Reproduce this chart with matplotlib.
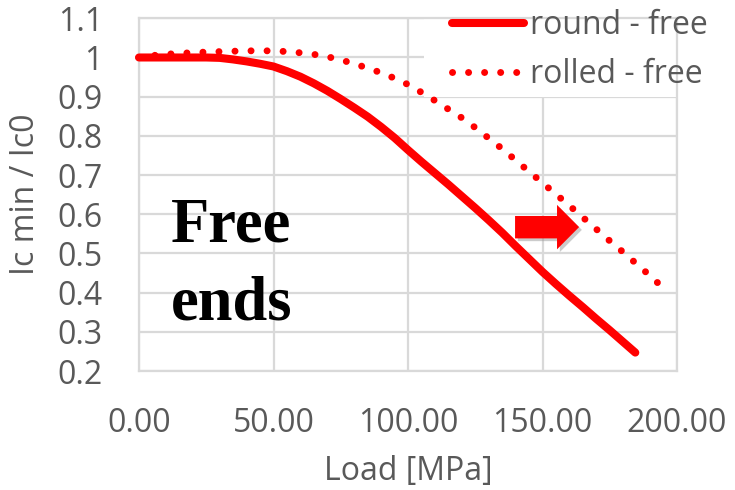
import matplotlib
matplotlib.use("Agg")
import matplotlib.pyplot as plt
from matplotlib.lines import Line2D
from matplotlib.patches import Polygon, Rectangle
import matplotlib.patheffects as pe

# Normalised critical current vs. applied load
load_round = [0, 5, 10, 15, 20, 25, 30, 35, 40, 45, 50, 55, 60, 65, 70, 75,
              80, 85, 90, 95, 100, 105, 110, 115, 120, 125, 130, 135, 140,
              145, 150, 155, 160, 165, 170, 175, 180, 184.5]
ic_round = [1.0, 1.0, 1.0, 1.0, 1.0, 1.0, 0.999, 0.995, 0.99, 0.984, 0.977,
            0.965, 0.951, 0.934, 0.915, 0.894, 0.872, 0.849, 0.823, 0.795,
            0.764, 0.734, 0.705, 0.676, 0.646, 0.616, 0.585, 0.553, 0.519,
            0.486, 0.453, 0.422, 0.392, 0.363, 0.333, 0.304, 0.274, 0.247]

load_rolled = [0, 5, 10, 15, 20, 25, 30, 35, 40, 45, 50, 55, 60, 65, 70, 75,
               80, 85, 90, 95, 100, 105, 110, 115, 120, 125, 130, 135, 140,
               145, 150, 155, 160, 165, 170, 175, 180, 185, 190, 193.3]
ic_rolled = [1.0, 1.005, 1.008, 1.011, 1.012, 1.014, 1.015, 1.016, 1.017,
             1.017, 1.017, 1.015, 1.012, 1.008, 1.002, 0.994, 0.984, 0.973,
             0.961, 0.947, 0.931, 0.911, 0.89, 0.868, 0.846, 0.821, 0.794,
             0.767, 0.738, 0.709, 0.68, 0.651, 0.622, 0.592, 0.562, 0.532,
             0.503, 0.473, 0.443, 0.422]

series_labels = ["round - free", "rolled - free"]
x_ticks = [0, 50, 100, 150, 200]
x_tick_labels = ["0.00", "50.00", "100.00", "150.00", "200.00"]
y_ticks = [0.2, 0.3, 0.4, 0.5, 0.6, 0.7, 0.8, 0.9, 1.0, 1.1]
y_tick_labels = ["0.2", "0.3", "0.4", "0.5", "0.6", "0.7", "0.8", "0.9", "1", "1.1"]

RED = "#ff0000"
GRAY_TXT = "#595959"
GRID = "#d9d9d9"
FONT = "Open Sans"
FS = 23

fig = plt.figure(figsize=(7.35, 4.9), dpi=100)
ax = fig.add_axes([139 / 735, 1 - 371 / 490, 538 / 735, 352.7 / 490])

ax.set_xlim(0, 200)
ax.set_ylim(0.2, 1.1)
ax.set_axisbelow(True)
ax.grid(True, color=GRID, linewidth=1.6)
for s in ax.spines.values():
    s.set_color(GRID)
    s.set_linewidth(1.6)
ax.tick_params(length=0, pad=26, labelsize=FS, labelcolor=GRAY_TXT)
ax.set_xticks(x_ticks)
ax.set_xticklabels(x_tick_labels, fontfamily=FONT)
ax.set_yticks(y_ticks)
ax.set_yticklabels(y_tick_labels, fontfamily=FONT)

ax.set_xlabel("Load [MPa]", fontsize=FS, color=GRAY_TXT, fontfamily=FONT, labelpad=11)
ax.set_ylabel("Ic min / Ic0", fontsize=FS, color=GRAY_TXT, fontfamily=FONT, labelpad=11)

solid_kw = dict(color=RED, linewidth=5.8, solid_capstyle="round",
                solid_joinstyle="round")
dot_kw = dict(color=RED, linewidth=5.0, linestyle=(0, (0.01, 2.3)),
              dash_capstyle="round")

ax.plot(load_round, ic_round, zorder=3, clip_on=False, **solid_kw)
ax.plot(load_rolled, ic_rolled, zorder=3, clip_on=False, **dot_kw)

# white backing behind the legend
ax.add_patch(Rectangle((424 / 735, 1 - 97 / 490), 311 / 735, 97 / 490,
                       transform=fig.transFigure, facecolor="white",
                       edgecolor="none", zorder=1.5, clip_on=False))

handles = [Line2D([], [], **solid_kw), Line2D([], [], **dot_kw)]
leg = ax.legend(handles, series_labels, loc="upper left",
                bbox_to_anchor=(452 / 735, 1 - 9 / 490),
                bbox_transform=fig.transFigure, frameon=False,
                prop={"family": FONT, "size": FS}, handlelength=2.25,
                handletextpad=0.2, borderpad=0, borderaxespad=0,
                labelspacing=0.5)
for t in leg.get_texts():
    t.set_color(GRAY_TXT)

# annotation text
ax.text(0.059, 0.3666, "Free", transform=ax.transAxes, fontsize=45,
        fontweight="bold", fontfamily="Liberation Serif", va="baseline",
        ha="left", color="black", zorder=4)
ax.text(0.059, 0.1446, "ends", transform=ax.transAxes, fontsize=45,
        fontweight="bold", fontfamily="Liberation Serif", va="baseline",
        ha="left", color="black", zorder=4)

# block arrow pointing to the rolled curve
arrow_pts = [(0.699, 0.4395), (0.777, 0.4395), (0.777, 0.471), (0.818, 0.408),
             (0.777, 0.345), (0.777, 0.376), (0.699, 0.376)]
arrow = Polygon(arrow_pts, closed=True, transform=ax.transAxes,
                facecolor=RED, edgecolor="none", zorder=4,
                path_effects=[pe.SimplePatchShadow(offset=(2, -2),
                                                   shadow_rgbFace="#999999",
                                                   alpha=0.5),
                              pe.Normal()])
ax.add_patch(arrow)

fig.savefig("out.png", dpi=100)
